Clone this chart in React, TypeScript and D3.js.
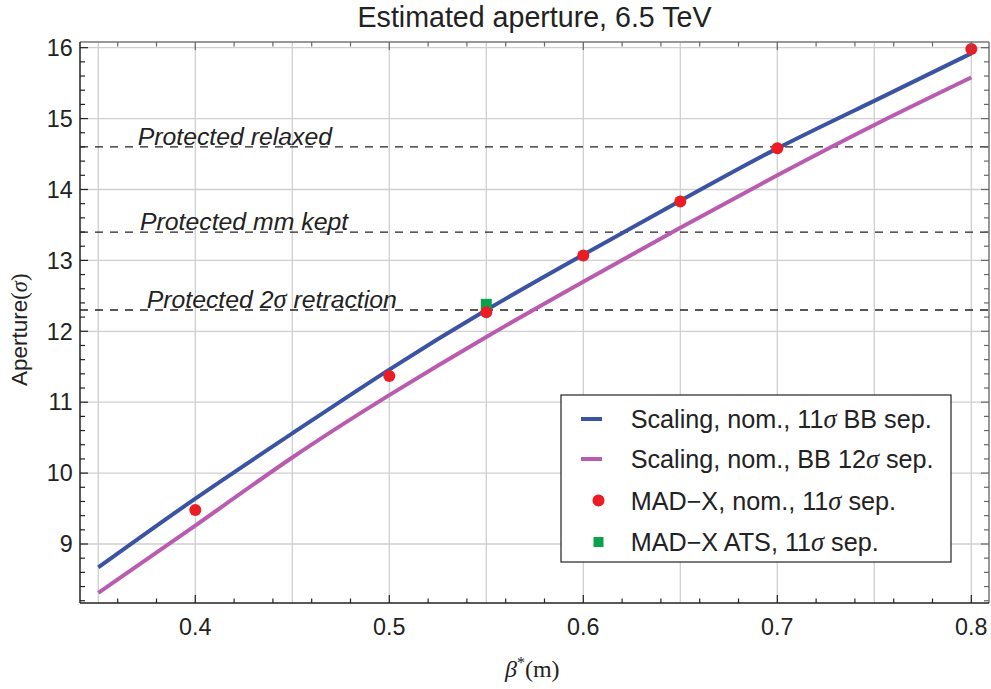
import React from "react";
import * as d3 from "d3";

const betaGrid = [0.35, 0.4, 0.45, 0.5, 0.55, 0.6, 0.65, 0.7, 0.75, 0.8];
const scaling11 = [8.67, 9.64, 10.56, 11.46, 12.3, 13.08, 13.84, 14.58, 15.25, 15.92];
const scaling12 = [8.31, 9.26, 10.22, 11.1, 11.92, 12.7, 13.46, 14.2, 14.91, 15.58];
const madxBeta = [0.4, 0.5, 0.55, 0.6, 0.65, 0.7, 0.8];
const madxNom = [9.48, 11.37, 12.27, 13.07, 13.83, 14.58, 15.98];
const atsBeta = [0.55];
const atsVal = [12.38];
const protectedLevels = [14.6, 13.4, 12.3];
const protectedNames = ["relaxed", "mm kept", "2σ retraction"];
const xTickLabels = ["0.4", "0.5", "0.6", "0.7", "0.8"];
const yTickLabels = ["9", "10", "11", "12", "13", "14", "15", "16"];
const legendLabels = [
  ["Scaling, nom., 11", "σ", " BB sep."],
  ["Scaling, nom., BB 12", "σ", " sep."],
  ["MAD\u2212X, nom., 11", "σ", " sep."],
  ["MAD\u2212X ATS, 11", "σ", " sep."],
];

const W = 991, H = 689;
const L = 80, R = 989, T = 42, B = 603;
const BLUE = "#3a53a3", PINK = "#b95cb0", RED = "#ec1c24", GREEN = "#0aa24c";
const SANS = "'Liberation Sans', Arial, Helvetica, sans-serif";
const SERIF = "'Liberation Serif', 'Times New Roman', serif";

export default function App() {
  const x = d3.scaleLinear().domain([0.34057, 0.80912]).range([L, R]);
  const y = d3.scaleLinear().domain([8.168, 16.08]).range([B, T]);
  const line = d3.line<number>().x((_, i) => x(betaGrid[i])).y((d) => y(d)).curve(d3.curveNatural);

  const gridX = d3.range(0, 10).map((i) => 0.35 + i * 0.05);
  const gridY = d3.range(9, 17);
  const xMinor = d3.range(0, 24).map((i) => +(0.34 + i * 0.02).toFixed(2)).filter((v) => v >= 0.3406 && v <= 0.809);
  const yMinor = d3.range(0, 41).map((i) => +(8.2 + i * 0.2).toFixed(1)).filter((v) => v >= 8.168 && v <= 16.08);
  const xMajor = xTickLabels.map(Number);
  const labelX = [137.7, 140, 146.7];

  const legTop = 395, legLeft = 561, legRight = 951, legBottom = 562;
  const legRows = [419, 459, 500.5, 542];

  return (
    <svg width={W} height={H} style={{ position: "absolute", left: 0, top: 0, background: "#fff" }}>
      <rect x={0} y={0} width={W} height={H} fill="#fff" />
      {gridX.map((v) => (
        <line key={"gx" + v} x1={x(v)} x2={x(v)} y1={T} y2={B} stroke="#cfcfcf" strokeWidth={1.3} />
      ))}
      {gridY.map((v) => (
        <line key={"gy" + v} x1={L} x2={R} y1={y(v)} y2={y(v)} stroke="#cfcfcf" strokeWidth={1.3} />
      ))}
      {protectedLevels.map((v) => (
        <line key={"p" + v} x1={L} x2={R} y1={y(v)} y2={y(v)} stroke="#222" strokeWidth={1.3} strokeDasharray="8 7" />
      ))}
      {protectedNames.map((n, i) => {
        const parts = n.split("σ");
        return (
          <text key={"pl" + i} x={labelX[i]} y={y(protectedLevels[i]) - 1.8} fontFamily={SANS} fontStyle="italic" fontSize={24.8} fill="#222">
            {"Protected " + parts[0]}
            {parts.length > 1 && <tspan fontFamily={SERIF} fontSize={26.5}>σ</tspan>}
            {parts.length > 1 && parts[1]}
          </text>
        );
      })}
      <path d={line(scaling12) || ""} fill="none" stroke={PINK} strokeWidth={4} />
      <path d={line(scaling11) || ""} fill="none" stroke={BLUE} strokeWidth={4} />
      {atsBeta.map((b, i) => (
        <rect key={"a" + i} x={x(b) - 5.5} y={y(atsVal[i]) - 5.5} width={11} height={11} fill={GREEN} />
      ))}
      {madxBeta.map((b, i) => (
        <circle key={"m" + i} cx={x(b)} cy={y(madxNom[i])} r={6} fill={RED} />
      ))}
      <line x1={L} x2={R} y1={T} y2={T} stroke="#777" strokeWidth={1.5} />
      <line x1={R} x2={R} y1={T} y2={B} stroke="#777" strokeWidth={1.5} />
      <line x1={L} x2={R} y1={B} y2={B} stroke="#222" strokeWidth={1.5} />
      <line x1={L} x2={L} y1={T} y2={B} stroke="#222" strokeWidth={1.5} />
      {xMinor.map((v) => {
        const major = xMajor.some((m) => Math.abs(m - v) < 1e-6);
        const len = major ? 8 : 4.5;
        return (
          <g key={"xt" + v}>
            <line x1={x(v)} x2={x(v)} y1={B} y2={B - len} stroke="#222" strokeWidth={1.2} />
            <line x1={x(v)} x2={x(v)} y1={T} y2={T + len} stroke="#666" strokeWidth={1.2} />
          </g>
        );
      })}
      {yMinor.map((v) => {
        const major = Math.abs(v - Math.round(v)) < 1e-6;
        const len = major ? 8 : 5;
        return (
          <g key={"yt" + v}>
            <line x1={L} x2={L + len} y1={y(v)} y2={y(v)} stroke="#222" strokeWidth={1.2} />
            <line x1={R} x2={R - len} y1={y(v)} y2={y(v)} stroke="#666" strokeWidth={1.2} />
          </g>
        );
      })}
      {xTickLabels.map((t) => (
        <text key={"xl" + t} x={x(+t)} y={635} textAnchor="middle" fontFamily={SANS} fontSize={23.3} fill="#222">{t}</text>
      ))}
      {yTickLabels.map((t) => (
        <text key={"yl" + t} x={72.7} y={y(+t) + 8.3} textAnchor="end" fontFamily={SANS} fontSize={23.3} fill="#222">{t}</text>
      ))}
      <text x={534.5} y={27} textAnchor="middle" fontFamily={SANS} fontSize={28.6} fill="#222">Estimated aperture, 6.5 TeV</text>
      <text x={505} y={677} fontFamily={SERIF} fontSize={24} fill="#222">
        <tspan fontStyle="italic">β</tspan>
        <tspan fontSize={16} dy={-9}>*</tspan>
        <tspan dy={9}>(m)</tspan>
      </text>
      <text transform="translate(27,386) rotate(-90)" fontFamily={SANS} fontSize={22.5} fill="#222">
        Aperture
        <tspan fontFamily={SERIF}>(</tspan>
        <tspan fontFamily={SERIF} fontStyle="italic">σ</tspan>
        <tspan fontFamily={SERIF}>)</tspan>
      </text>
      <rect x={legLeft} y={legTop} width={legRight - legLeft} height={legBottom - legTop} fill="#fff" stroke="#333" strokeWidth={1.3} />
      <line x1={581} x2={602} y1={legRows[0]} y2={legRows[0]} stroke={BLUE} strokeWidth={4} />
      <line x1={581} x2={602} y1={legRows[1]} y2={legRows[1]} stroke={PINK} strokeWidth={4} />
      <circle cx={598.5} cy={legRows[2]} r={6} fill={RED} />
      <rect x={593.5} y={legRows[3] - 5} width={10} height={10} fill={GREEN} />
      {legendLabels.map((p, i) => (
        <text key={"lg" + i} x={630.7} y={legRows[i] + 9} fontFamily={SANS} fontSize={25.2} fill="#222">
          {p[0]}
          <tspan fontFamily={SERIF} fontStyle="italic" fontSize={26.5}>{p[1]}</tspan>
          {p[2]}
        </text>
      ))}
    </svg>
  );
}
